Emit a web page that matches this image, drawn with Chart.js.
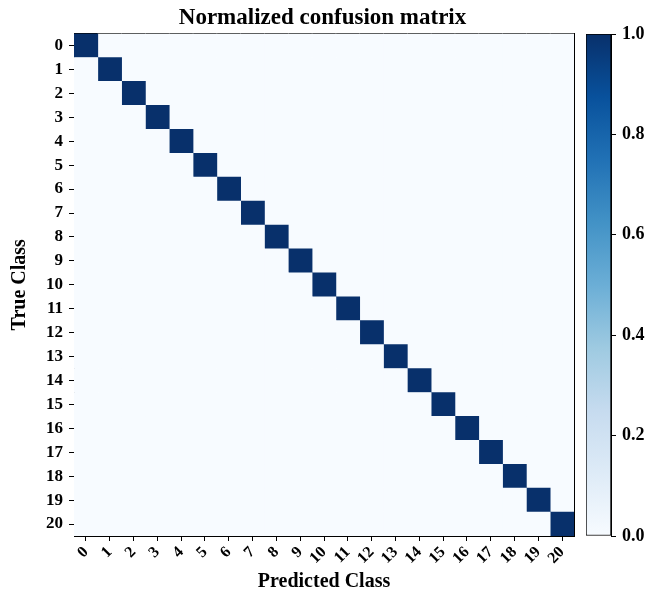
<!DOCTYPE html>
<html>
<head>
<meta charset="utf-8">
<script src="https://cdn.jsdelivr.net/npm/chart.js@4.4.1/dist/chart.umd.min.js"></script>
<style>
  html, body { margin: 0; padding: 0; background: #fff; }
  #wrap { position: relative; width: 645px; height: 597px; }
  #matrix { position: absolute; left: 0; top: 0; }
  #colorbar { position: absolute; left: 575px; top: 0; }
</style>
</head>
<body>
<div id="wrap">
  <canvas id="matrix" width="645" height="597"></canvas>
  <canvas id="colorbar" width="70" height="597"></canvas>
</div>
<script>
// class names (rows = true class, columns = predicted class)
const classLabels = ['0', '1', '2', '3', '4', '5', '6', '7', '8', '9', '10',
  '11', '12', '13', '14', '15', '16', '17', '18', '19', '20'];

// normalized confusion matrix
const row0  = [1,0,0,0,0,0,0,0,0,0,0,0,0,0,0,0,0,0,0,0,0];
const row1  = [0,1,0,0,0,0,0,0,0,0,0,0,0,0,0,0,0,0,0,0,0];
const row2  = [0,0,1,0,0,0,0,0,0,0,0,0,0,0,0,0,0,0,0,0,0];
const row3  = [0,0,0,1,0,0,0,0,0,0,0,0,0,0,0,0,0,0,0,0,0];
const row4  = [0,0,0,0,1,0,0,0,0,0,0,0,0,0,0,0,0,0,0,0,0];
const row5  = [0,0,0,0,0,1,0,0,0,0,0,0,0,0,0,0,0,0,0,0,0];
const row6  = [0,0,0,0,0,0,1,0,0,0,0,0,0,0,0,0,0,0,0,0,0];
const row7  = [0,0,0,0,0,0,0,1,0,0,0,0,0,0,0,0,0,0,0,0,0];
const row8  = [0,0,0,0,0,0,0,0,1,0,0,0,0,0,0,0,0,0,0,0,0];
const row9  = [0,0,0,0,0,0,0,0,0,1,0,0,0,0,0,0,0,0,0,0,0];
const row10 = [0,0,0,0,0,0,0,0,0,0,1,0,0,0,0,0,0,0,0,0,0];
const row11 = [0,0,0,0,0,0,0,0,0,0,0,1,0,0,0,0,0,0,0,0,0];
const row12 = [0,0,0,0,0,0,0,0,0,0,0,0,1,0,0,0,0,0,0,0,0];
const row13 = [0,0,0,0,0,0,0,0,0,0,0,0,0,1,0,0,0,0,0,0,0];
const row14 = [0,0,0,0,0,0,0,0,0,0,0,0,0,0,1,0,0,0,0,0,0];
const row15 = [0,0,0,0,0,0,0,0,0,0,0,0,0,0,0,1,0,0,0,0,0];
const row16 = [0,0,0,0,0,0,0,0,0,0,0,0,0,0,0,0,1,0,0,0,0];
const row17 = [0,0,0,0,0,0,0,0,0,0,0,0,0,0,0,0,0,1,0,0,0];
const row18 = [0,0,0,0,0,0,0,0,0,0,0,0,0,0,0,0,0,0,1,0,0];
const row19 = [0,0,0,0,0,0,0,0,0,0,0,0,0,0,0,0,0,0,0,1,0];
const row20 = [0,0,0,0,0,0,0,0,0,0,0,0,0,0,0,0,0,0,0,0,1];
const matrix = [row0, row1, row2, row3, row4, row5, row6, row7, row8, row9, row10,
  row11, row12, row13, row14, row15, row16, row17, row18, row19, row20];

// colorbar ticks
const colorbarTicks = [0.0, 0.2, 0.4, 0.6, 0.8, 1.0];

// matplotlib "Blues" colormap stops
const bluesStops = ['#f7fbff', '#deebf7', '#c6dbef', '#9ecae1', '#6baed6',
  '#4292c6', '#2171b5', '#08519c', '#08306b'];

function hexToRgb(h) {
  return [parseInt(h.slice(1, 3), 16), parseInt(h.slice(3, 5), 16), parseInt(h.slice(5, 7), 16)];
}

function blues(v) {
  const t = Math.max(0, Math.min(1, v)) * (bluesStops.length - 1);
  const i = Math.min(Math.floor(t), bluesStops.length - 2);
  const f = t - i;
  const a = hexToRgb(bluesStops[i]);
  const b = hexToRgb(bluesStops[i + 1]);
  const c = a.map((x, k) => Math.round(x + (b[k] - x) * f));
  return `rgb(${c[0]}, ${c[1]}, ${c[2]})`;
}

const serif = "'Liberation Serif', 'Times New Roman', serif";
Chart.defaults.font.family = serif;
Chart.defaults.color = '#000';

// one floating-bar dataset per predicted class (column)
const datasets = classLabels.map((_, j) => ({
  label: 'pred ' + classLabels[j],
  data: classLabels.map(() => [j - 0.5, j + 0.5]),
  backgroundColor: matrix.map(row => blues(row[j])),
  borderWidth: 0,
  grouped: false,
  barPercentage: 1,
  categoryPercentage: 1
}));

const axisLine = { display: true, color: '#000', width: 1 };

new Chart(document.getElementById('matrix').getContext('2d'), {
  type: 'bar',
  data: { labels: classLabels, datasets: datasets },
  options: {
    indexAxis: 'y',
    responsive: false,
    animation: false,
    events: [],
    layout: { padding: { left: 0, right: 0, top: 0, bottom: 3 } },
    plugins: {
      legend: { display: false },
      tooltip: { enabled: false },
      title: {
        display: true,
        text: 'Normalized confusion matrix',
        color: '#000',
        font: { size: 23, weight: 'bold', family: serif },
        padding: { top: 4, bottom: 2 }
      }
    },
    scales: {
      x: {
        type: 'linear',
        position: 'bottom',
        z: 1,
        min: -0.5,
        max: 20.5,
        afterBuildTicks: (axis) => {
          axis.ticks = classLabels.map((_, i) => ({ value: i }));
        },
        afterFit: (scale) => { scale.height = 58; },
        ticks: {
          autoSkip: false,
          minRotation: 45,
          maxRotation: 45,
          padding: 2,
          font: { size: 16, weight: 'bold' },
          callback: (v) => classLabels[v]
        },
        grid: { drawOnChartArea: false, drawTicks: true, tickLength: 5, color: '#000' },
        border: axisLine,
        title: {
          display: true,
          text: 'Predicted Class',
          font: { size: 20, weight: 'bold' },
          padding: { top: 0, bottom: 0 }
        }
      },
      x2: {
        type: 'linear',
        position: 'top',
        z: 1,
        afterFit: (scale) => { scale.height = 0; },
        ticks: { display: false },
        grid: { drawOnChartArea: false, drawTicks: false },
        border: axisLine
      },
      y: {
        type: 'category',
        position: 'left',
        z: 1,
        afterFit: (scale) => { scale.width = 74; },
        ticks: {
          autoSkip: false,
          padding: 6,
          font: { size: 17, weight: 'bold' }
        },
        grid: { drawOnChartArea: false, drawTicks: true, tickLength: 5, color: '#000', offset: false },
        border: axisLine,
        title: {
          display: true,
          text: 'True Class',
          font: { size: 20, weight: 'bold' },
          padding: { top: 8, bottom: 0 }
        }
      },
      y2: {
        type: 'linear',
        position: 'right',
        z: 1,
        afterFit: (scale) => { scale.width = 71; },
        ticks: { display: false },
        grid: { drawOnChartArea: false, drawTicks: false },
        border: axisLine
      }
    }
  }
});

// colorbar: one floating bar from 0 to 1 filled with the colormap gradient
new Chart(document.getElementById('colorbar').getContext('2d'), {
  type: 'bar',
  data: {
    labels: ['cb'],
    datasets: [{
      data: [[0, 1]],
      backgroundColor: (ctx) => {
        const chart = ctx.chart;
        if (!chart.chartArea) return bluesStops[0];
        const ys = chart.scales.y;
        const g = chart.ctx.createLinearGradient(0, ys.getPixelForValue(0), 0, ys.getPixelForValue(1));
        bluesStops.forEach((c, i) => g.addColorStop(i / (bluesStops.length - 1), c));
        return g;
      },
      borderColor: '#000',
      borderWidth: 1,
      borderSkipped: false,
      barPercentage: 1,
      categoryPercentage: 1
    }]
  },
  options: {
    responsive: false,
    animation: false,
    events: [],
    layout: { padding: { left: 11, right: 0, top: 34, bottom: 61 } },
    plugins: { legend: { display: false }, tooltip: { enabled: false } },
    scales: {
      x: { display: false },
      y: {
        position: 'right',
        min: 0,
        max: 1,
        afterBuildTicks: (axis) => {
          axis.ticks = colorbarTicks.map(v => ({ value: v }));
        },
        afterFit: (scale) => { scale.width = 34; },
        ticks: {
          padding: 6,
          font: { size: 18, weight: 'bold' },
          callback: (v) => v.toFixed(1)
        },
        grid: { drawOnChartArea: false, drawTicks: true, tickLength: 5, color: '#000' },
        border: axisLine
      }
    }
  }
});
</script>
</body>
</html>
